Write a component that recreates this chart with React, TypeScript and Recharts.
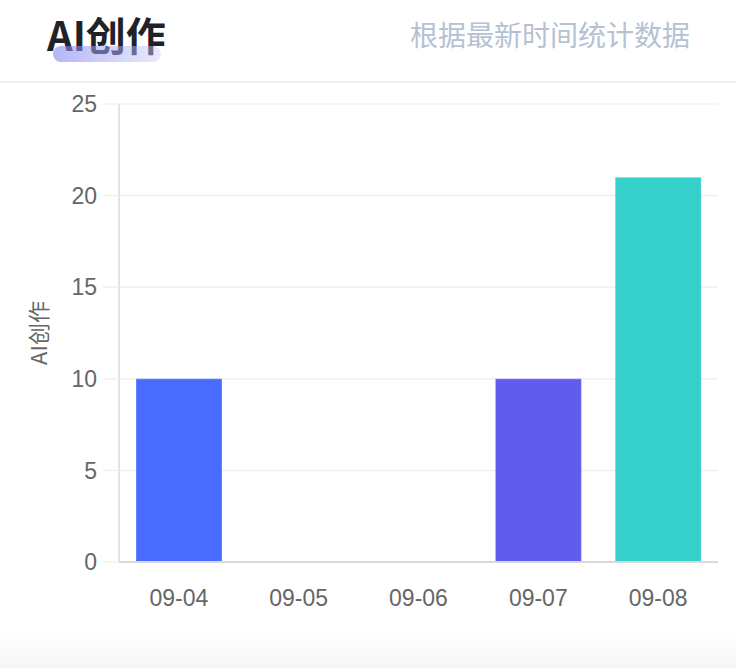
import React from 'react';
import { BarChart, Bar, XAxis, YAxis, CartesianGrid, Cell, Label } from 'recharts';

const categories = ['09-04', '09-05', '09-06', '09-07', '09-08'];
const values = [10, 0, 0, 10, 21];
const barColors = ['#4a6bff', '#4a6bff', '#4a6bff', '#615ced', '#36d0cb'];
const yTicks = [0, 5, 10, 15, 20, 25];

const TITLE = 'AI创作';
const SUBTITLE = '根据最新时间统计数据';
const Y_LABEL = 'AI创作';

const data = categories.map((c, i) => ({ name: c, value: values[i] }));

const tickFont = { fontFamily: '"Liberation Sans", Arial, sans-serif', fontSize: 23, fill: '#666666' };

export default function App() {
  return (
    <div style={{ position: 'fixed', left: 0, top: 0, width: 736, height: 668, background: '#ffffff', overflow: 'hidden' }}>
      <div
        style={{
          position: 'absolute', left: 0, top: 628, width: 736, height: 40,
          background: 'linear-gradient(to bottom, #ffffff, #f6f6f6)',
        }}
      />
      <div
        style={{
          position: 'absolute', left: 47, top: 8, fontFamily: '"Noto Sans CJK SC", sans-serif',
          fontWeight: 700, fontSize: 40, lineHeight: '52px', color: '#1f2329', whiteSpace: 'nowrap',
        }}
      >
        {TITLE}
      </div>
      <div
        style={{
          position: 'absolute', left: 53, top: 46, width: 108, height: 16, borderRadius: 8,
          background: 'linear-gradient(to right, rgba(130,134,243,0.6), rgba(205,208,250,0.45))',
        }}
      />
      <div
        style={{
          position: 'absolute', right: 46, top: 14, fontFamily: '"Noto Sans CJK SC", sans-serif',
          fontSize: 28, lineHeight: '40px', color: '#b6c1d1', whiteSpace: 'nowrap',
        }}
      >
        {SUBTITLE}
      </div>
      <div style={{ position: 'absolute', left: 0, top: 81, width: 736, height: 2, background: '#eef2f7' }} />
      <div style={{ position: 'absolute', left: 0, top: 0 }}>
        <BarChart width={736} height={668} data={data} margin={{ top: 104, right: 18, bottom: 76, left: 0 }}>
          <CartesianGrid vertical={false} stroke="#f0f0f0" strokeWidth={1.5} />
          <XAxis
            dataKey="name"
            height={30}
            tickLine={false}
            tickSize={20}
            tickMargin={8}
            axisLine={{ stroke: '#d9d9d9', strokeWidth: 2 }}
            tick={tickFont}
            interval={0}
          />
          <YAxis
            width={119}
            domain={[0, 25]}
            ticks={yTicks}
            tickSize={16}
            tickMargin={6}
            tickLine={{ stroke: '#f0f0f0', strokeWidth: 1.5 }}
            axisLine={{ stroke: '#e3e3e3', strokeWidth: 2 }}
            tick={tickFont}
          >
            <Label
              value={Y_LABEL}
              angle={-90}
              position="insideLeft"
              offset={39}
              style={{ textAnchor: 'middle', fontFamily: '"Noto Sans CJK SC", sans-serif', fontSize: 22, fill: '#666666' }}
            />
          </YAxis>
          <Bar dataKey="value" barSize={86} isAnimationActive={false} stroke="rgba(255,255,255,0.3)" strokeWidth={1}>
            {data.map((d, i) => (
              <Cell key={d.name} fill={barColors[i]} />
            ))}
          </Bar>
        </BarChart>
      </div>
    </div>
  );
}
